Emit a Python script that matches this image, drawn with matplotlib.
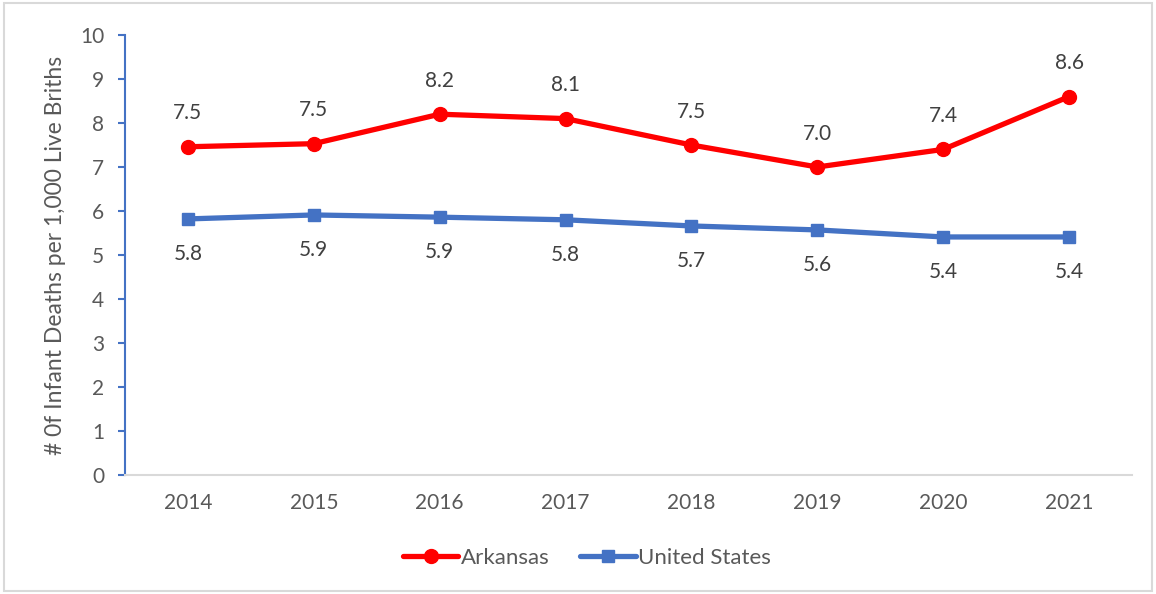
import matplotlib
matplotlib.use("Agg")
from matplotlib import pyplot as plt
from matplotlib.patches import Rectangle

# data
years = ["2014", "2015", "2016", "2017", "2018", "2019", "2020", "2021"]
arkansas = [7.46, 7.53, 8.2, 8.1, 7.5, 7.0, 7.4, 8.6]
arkansas_labels = ["7.5", "7.5", "8.2", "8.1", "7.5", "7.0", "7.4", "8.6"]
us = [5.82, 5.91, 5.86, 5.8, 5.66, 5.57, 5.41, 5.41]
us_labels = ["5.8", "5.9", "5.9", "5.8", "5.7", "5.6", "5.4", "5.4"]

plt.rcParams['font.family'] = ['Lato', 'DejaVu Sans']
txt = "#595959"
red = "#ff0000"
blue = "#4472c4"

fig = plt.figure(figsize=(11.56, 5.94), dpi=100)
ax = fig.add_axes([125/1156, 1-475/594, (1132-125)/1156, (475-35)/594])

x = list(range(len(years)))
ax.plot(x, arkansas, color=red, lw=3.8, marker="o", ms=10, label="Arkansas",
        solid_capstyle="round")
ax.plot(x, us, color=blue, lw=3.8, marker="s", ms=9, label="United States",
        solid_capstyle="round")

for i in x:
    ax.annotate(arkansas_labels[i], (i, arkansas[i]), xytext=(0, 24),
                textcoords="offset points", ha="center", va="center",
                fontsize=15, color="#404040")
    ax.annotate(us_labels[i], (i, us[i]), xytext=(0, -25),
                textcoords="offset points", ha="center", va="center",
                fontsize=15, color="#404040")

ax.set_xlim(-0.5, len(years) - 0.5)
ax.set_ylim(0, 10)
ax.set_yticks(range(0, 11))
ax.set_xticks(x)
ax.set_xticklabels(years)

for s in ["top", "right"]:
    ax.spines[s].set_visible(False)
ax.spines["left"].set_color(blue)
ax.spines["left"].set_linewidth(1.5)
ax.spines["bottom"].set_color("#d9d9d9")
ax.spines["bottom"].set_linewidth(1.5)
ax.tick_params(axis="y", direction="out", length=5, width=1.5, color=blue,
               labelsize=15, labelcolor=txt, pad=10)
ax.tick_params(axis="x", length=0, labelsize=15, labelcolor=txt, pad=13)
ax.set_ylabel("# 0f Infant Deaths per 1,000 Live Briths", fontsize=16.5,
              color=txt, labelpad=10)

leg = fig.legend(loc="center", bbox_to_anchor=(587/1156, 1-558/594), ncol=2,
                 frameon=False, fontsize=16, handlelength=2.5,
                 handletextpad=0.1, columnspacing=1.4, labelcolor=txt)

fig.patches.append(Rectangle((4/1156, 3/594), 1-8/1156, 1-6/594,
                             transform=fig.transFigure, fill=False,
                             edgecolor="#d9d9d9", lw=1.5))

fig.savefig("out.png", dpi=100)
